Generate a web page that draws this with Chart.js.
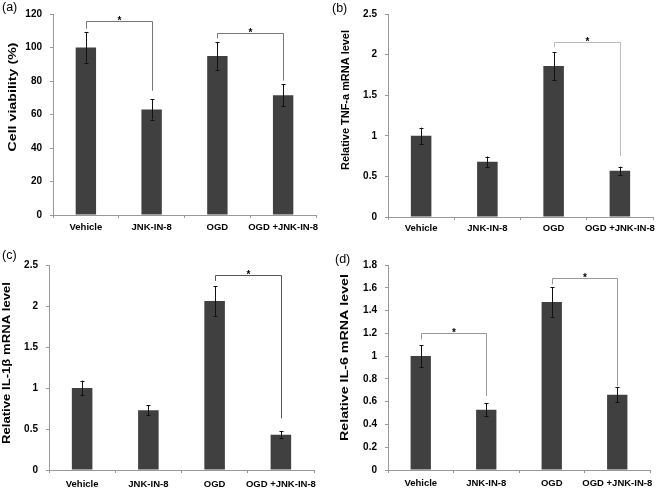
<!DOCTYPE html>
<html lang="en">
<head>
<meta charset="UTF-8">
<title>JNK-IN-8 panels</title>
<script src="https://cdn.jsdelivr.net/npm/chart.js"></script>
<style>
  body { margin: 0; background: #fff; }
  #wrap { position: relative; width: 659px; height: 488px; }
  canvas { position: absolute; }
</style>
</head>
<body>
<div id="wrap">
  <canvas id="pa" width="330" height="244" style="left:0;top:0"></canvas>
  <canvas id="pb" width="329" height="244" style="left:330px;top:0"></canvas>
  <canvas id="pc" width="330" height="248" style="left:0;top:240px"></canvas>
  <canvas id="pd" width="329" height="248" style="left:330px;top:240px"></canvas>
</div>
<script>
// groups on the x axis
const categories = ['Vehicle', 'JNK-IN-8', 'OGD', 'OGD +JNK-IN-8'];

// (a) cell viability (%)
const viability = [100, 63, 95, 71.5];
const viabilityErr = [9, 6, 8.3, 6.7];
const viabilityTicks = [0, 20, 40, 60, 80, 100, 120];
// [from, to, bracket height, left end, right end]
const viabilitySig = [[0, 1, 116, 111.2, 74.2], [2, 3, 108.7, 105.4, 80.2]];

// (b) TNF-a mRNA
const tnfLevel = [1.0, 0.68, 1.86, 0.57];
const tnfErr = [0.1, 0.065, 0.17, 0.05];
const tnfTicks = [0, 0.5, 1, 1.5, 2, 2.5];
const tnfSig = [[2, 3, 2.155, 2.09, 0.75]];

// (c) IL-1b mRNA
const il1bLevel = [1.0, 0.73, 2.06, 0.43];
const il1bErr = [0.09, 0.06, 0.18, 0.045];
const il1bTicks = [0, 0.5, 1, 1.5, 2, 2.5];
const il1bSig = [[2, 3, 2.375, 2.305, 0.63]];

// (d) IL-6 mRNA
const il6Level = [1.0, 0.53, 1.475, 0.66];
const il6Err = [0.095, 0.055, 0.13, 0.065];
const il6Ticks = [0, 0.2, 0.4, 0.6, 0.8, 1, 1.2, 1.4, 1.6, 1.8];
const il6Sig = [[0, 1, 1.206, 1.147, 0.65], [2, 3, 1.689, 1.63, 0.737]];

const FONT = "'Liberation Sans', Arial, sans-serif";

// error bars, significance brackets, panel letter and stretched y title
const extras = {
  id: 'extras',
  afterDatasetsDraw(chart) {
    const o = chart.options.plugins.extras;
    const ctx = chart.ctx;
    const x = chart.scales.x, y = chart.scales.y;
    ctx.save();
    ctx.lineWidth = 1;
    ctx.strokeStyle = '#111';
    o.values.forEach((v, i) => {
      const cx = Math.round(x.getPixelForValue(i)) + 0.5;
      const t = y.getPixelForValue(v + o.errors[i]);
      const b = y.getPixelForValue(v - o.errors[i]);
      ctx.beginPath();
      ctx.moveTo(cx, t); ctx.lineTo(cx, b);
      ctx.moveTo(cx - 2, Math.round(t) + 0.5); ctx.lineTo(cx + 2, Math.round(t) + 0.5);
      ctx.moveTo(cx - 2, Math.round(b) + 0.5); ctx.lineTo(cx + 2, Math.round(b) + 0.5);
      ctx.stroke();
    });
    ctx.strokeStyle = o.sigColor;
    ctx.fillStyle = '#000';
    ctx.font = 'bold 10px ' + FONT;
    ctx.textAlign = 'center';
    ctx.textBaseline = 'alphabetic';
    o.sig.forEach(s => {
      const xa = Math.round(x.getPixelForValue(s[0])) + 0.5;
      const xb = Math.round(x.getPixelForValue(s[1])) + 0.5;
      const yh = Math.round(y.getPixelForValue(s[2])) + 0.5;
      ctx.beginPath();
      ctx.moveTo(xa, y.getPixelForValue(s[3]));
      ctx.lineTo(xa, yh);
      ctx.lineTo(xb, yh);
      ctx.lineTo(xb, y.getPixelForValue(s[4]));
      ctx.stroke();
      ctx.fillText('*', (xa + xb) / 2, yh + 2);
    });
    ctx.restore();
  },
  afterDraw(chart) {
    const o = chart.options.plugins.extras;
    const ctx = chart.ctx;
    ctx.save();
    ctx.fillStyle = '#000';
    ctx.font = '12.5px ' + FONT;
    ctx.textBaseline = 'middle';
    ctx.fillText(o.letter, o.letterX, o.letterY);
    // y title, stretched along its length like the original figure
    ctx.translate(o.titleX, o.titleY);
    ctx.rotate(-Math.PI / 2);
    ctx.font = 'bold 11px ' + FONT;
    const w = ctx.measureText(o.title).width;
    ctx.scale(o.titleLen / w, 1);
    ctx.textAlign = 'center';
    ctx.fillText(o.title, 0, 0);
    ctx.restore();
  }
};

function makePanel(id, p) {
  new Chart(document.getElementById(id), {
    type: 'bar',
    data: {
      labels: categories,
      datasets: [{
        data: p.values,
        backgroundColor: '#404040',
        barPercentage: 0.31,
        categoryPercentage: 1
      }]
    },
    options: {
      responsive: false,
      animation: false,
      layout: { padding: { left: 0, top: p.top, right: p.right, bottom: 0 } },
      plugins: {
        legend: { display: false },
        tooltip: { enabled: false },
        extras: p
      },
      scales: {
        x: {
          grid: { display: true, drawOnChartArea: false, tickLength: 3, color: '#999' },
          border: { color: '#999' },
          ticks: { color: '#000', font: { family: FONT, size: 9.5, weight: 'bold' }, padding: p.xPad, maxRotation: 0, autoSkip: false },
          afterFit: s => { s.height = p.xH; }
        },
        y: {
          min: p.ticks[0],
          max: p.ticks[p.ticks.length - 1],
          grid: { display: true, drawOnChartArea: false, tickLength: 3, color: '#999' },
          border: { color: '#999' },
          ticks: { color: '#000', font: { family: FONT, size: 10, weight: 'bold' }, padding: 8, callback: v => String(v) },
          afterBuildTicks: s => { s.ticks = p.ticks.map(v => ({ value: v })); },
          afterFit: s => { s.width = p.yW; }
        }
      }
    },
    plugins: [extras]
  });
}

makePanel('pa', {
  values: viability, errors: viabilityErr, ticks: viabilityTicks, sig: viabilitySig, sigColor: '#777',
  letter: '(a)', letterX: 2, letterY: 8,
  title: 'Cell viability (%)', titleX: 13, titleY: 97, titleLen: 109,
  yW: 53, top: 10, right: 14, xH: 29, xPad: 4
});
makePanel('pb', {
  values: tnfLevel, errors: tnfErr, ticks: tnfTicks, sig: tnfSig, sigColor: '#bbb',
  letter: '(b)', letterX: 2, letterY: 8.5,
  title: 'Relative TNF-a mRNA level', titleX: 16, titleY: 100, titleLen: 140,
  yW: 58, top: 12, right: 6, xH: 27, xPad: 3
});
makePanel('pc', {
  values: il1bLevel, errors: il1bErr, ticks: il1bTicks, sig: il1bSig, sigColor: '#555',
  letter: '(c)', letterX: 2, letterY: 16,
  title: 'Relative IL-1\u03b2 mRNA level', titleX: 7, titleY: 123, titleLen: 162,
  yW: 49, top: 25, right: 16, xH: 18, xPad: 6
});
makePanel('pd', {
  values: il6Level, errors: il6Err, ticks: il6Ticks, sig: il6Sig, sigColor: '#999',
  letter: '(d)', letterX: 5, letterY: 20,
  title: 'Relative IL-6 mRNA level', titleX: 15, titleY: 117.5, titleLen: 167,
  yW: 58, top: 25, right: 9, xH: 18, xPad: 5
});
</script>
</body>
</html>
